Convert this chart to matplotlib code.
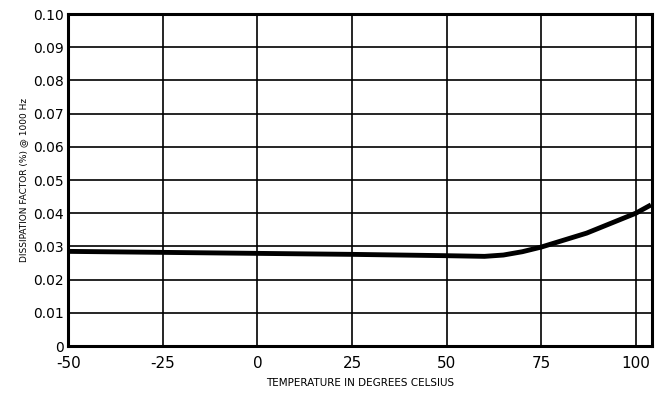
import matplotlib
matplotlib.use("Agg")
import matplotlib.pyplot as plt

temps = [-50, -25, 0, 25, 50, 60, 65, 70, 75, 87, 100, 104]
dissipation = [0.0285, 0.0282, 0.0279, 0.0276, 0.0272, 0.0270, 0.0274, 0.0284, 0.0298, 0.0340, 0.0400, 0.0425]
xticks = [-50, -25, 0, 25, 50, 75, 100]
yticks = [0, 0.01, 0.02, 0.03, 0.04, 0.05, 0.06, 0.07, 0.08, 0.09, 0.10]
ytick_labels = ["0", "0.01", "0.02", "0.03", "0.04", "0.05", "0.06", "0.07", "0.08", "0.09", "0.10"]

plt.rcParams['font.family'] = ['Liberation Sans Narrow', 'DejaVu Sans']

fig = plt.figure(figsize=(6.63, 4.0), dpi=100)
ax = fig.add_axes([0.103, 0.135, 0.880, 0.830])
ax.plot(temps, dissipation, color='black', linewidth=3.5, solid_capstyle='butt',
        solid_joinstyle='round')
ax.set_xlim(-50, 104.2)
ax.set_ylim(0, 0.10)
ax.set_xticks(xticks)
ax.set_xticklabels([str(t) for t in xticks], fontsize=11)
ax.set_yticks(yticks)
ax.set_yticklabels(ytick_labels, fontsize=10)
ax.grid(True, color='black', linewidth=1.2)
ax.tick_params(axis='y', length=0, pad=3)
ax.tick_params(axis='x', length=0, pad=7)
for s in ax.spines.values():
    s.set_linewidth(2.2)
ax.set_xlabel("TEMPERATURE IN DEGREES CELSIUS", fontsize=7.5, labelpad=5)
ax.set_ylabel("DISSIPATION FACTOR (%) @ 1000 Hz", fontsize=6.5, labelpad=4)
fig.savefig("out.png", dpi=100)
